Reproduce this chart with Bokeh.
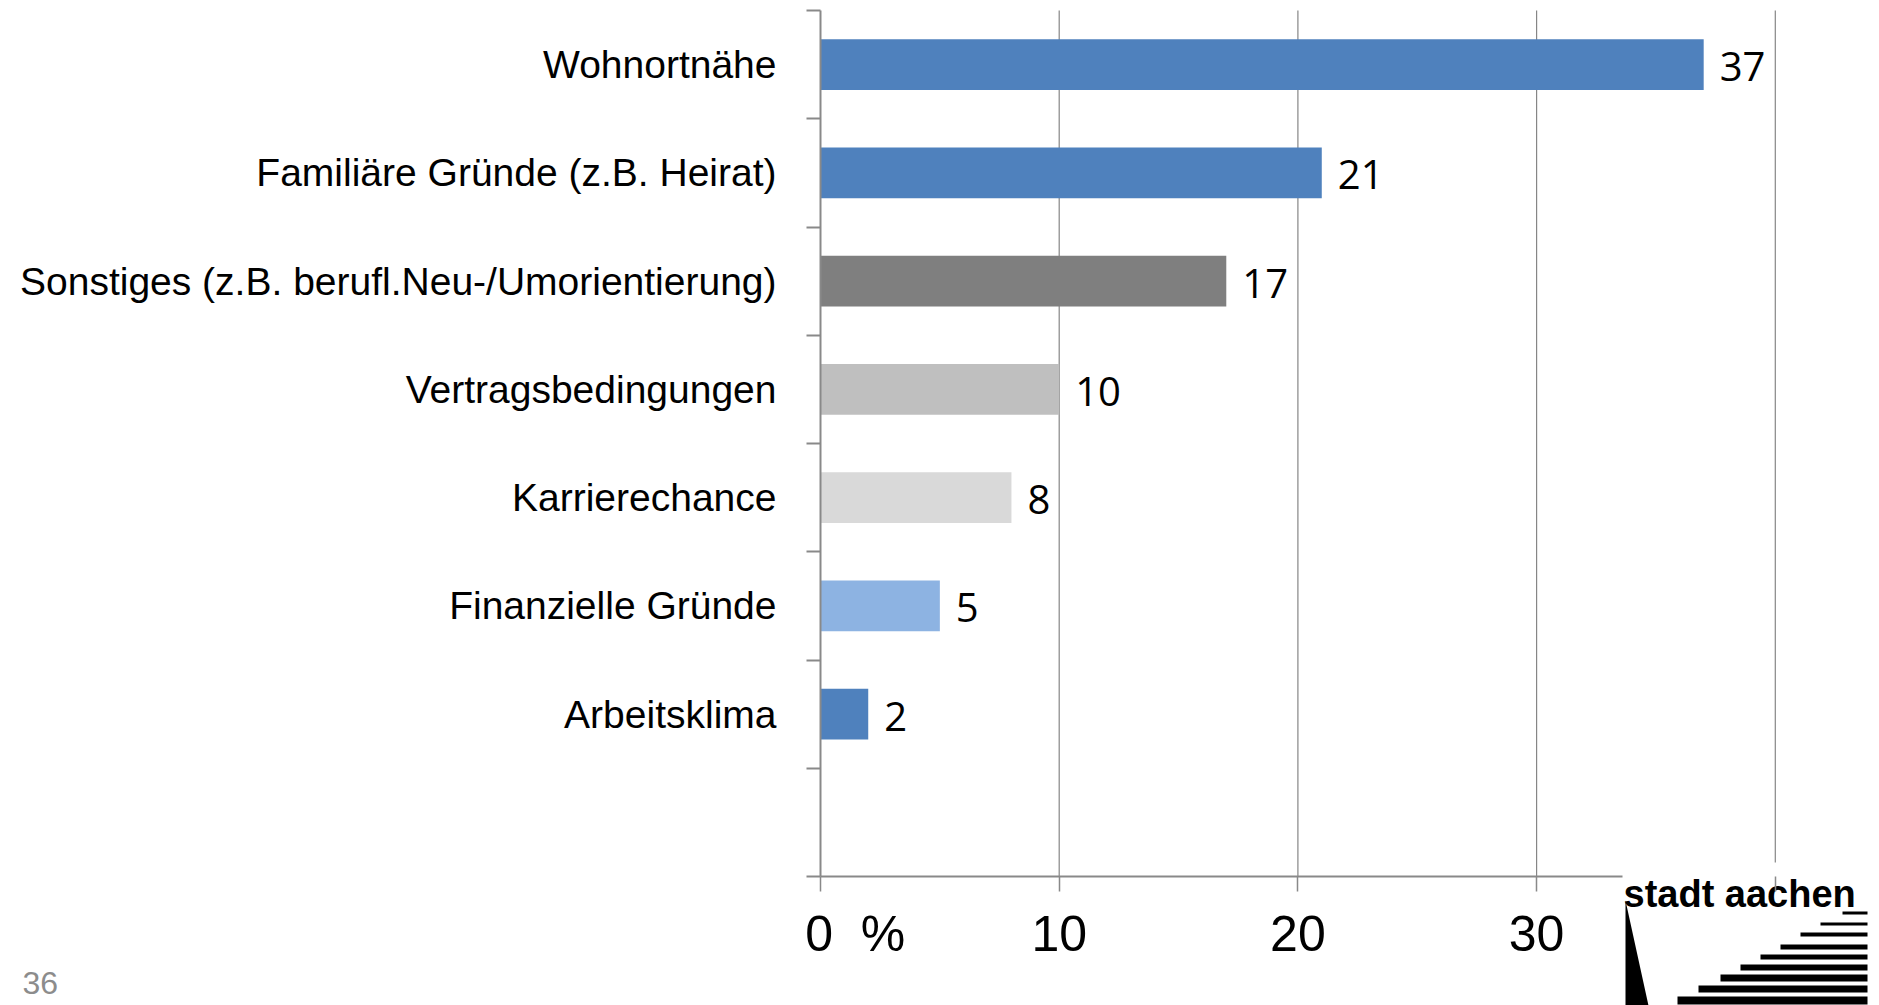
from bokeh.plotting import figure
from bokeh.models import FixedTicker, Range1d, ColumnDataSource
from bokeh.core.properties import value
from bokeh.embed import file_html
from bokeh.resources import INLINE

# ---- data ----
categories = [
    "Wohnortnähe",
    "Familiäre Gründe (z.B. Heirat)",
    "Sonstiges (z.B. berufl.Neu-/Umorientierung)",
    "Vertragsbedingungen",
    "Karrierechance",
    "Finanzielle Gründe",
    "Arbeitsklima",
]
values = [37, 21, 17, 10, 8, 5, 2]
bar_colors = ["#4F81BD", "#4F81BD", "#7F7F7F", "#BFBFBF", "#D9D9D9", "#8DB3E2", "#4F81BD"]
x_ticks = [0, 10, 20, 30, 40]
NB = "\u00a0"
x_tick_labels = [NB * 5 + "0" + NB * 2 + "%", "10", "20", "30", ""]
n_slots = 8  # seven categories plus one empty slot at the bottom
page_number = "36"
logo_text = "stadt aachen"

FONT = "Liberation Sans"
GRAY = "#898989"

# ---- canvas geometry (pixels) ----
W, H = 1879, 1005
X0_PX, X_UNIT_PX = 820, 23.87        # where x=0 sits, pixels per x unit
Y_TOP_PX, Y_BOT_PX = 10, 876         # pixel rows of y=n_slots and y=0
y_unit = (Y_BOT_PX - Y_TOP_PX) / n_slots

x_range = Range1d(-X0_PX / X_UNIT_PX, (W - X0_PX) / X_UNIT_PX)
y_range = Range1d(-(H - Y_BOT_PX) / y_unit, n_slots + Y_TOP_PX / y_unit)

ys = [n_slots - i - 0.5 for i in range(len(categories))]
src = ColumnDataSource(dict(y=ys, v=values, c=bar_colors,
                            lab=[str(v) for v in values]))

p = figure(width=W, height=H, output_backend="svg", toolbar_location=None,
           title=None, x_range=x_range, y_range=y_range, min_border=0)
p.extra_x_ranges = {"px": Range1d(0, W)}
p.extra_y_ranges = {"py": Range1d(H, 0)}
p.outline_line_color = None
p.background_fill_color = "white"
p.border_fill_color = "white"

# vertical grid lines (from the tick list), under the bars
p.grid.visible = False
grid_x = [t for t in x_ticks if t > 0]
p.segment(x0=grid_x, x1=grid_x, y0=[0] * len(grid_x), y1=[n_slots] * len(grid_x),
          line_color="#868686", line_width=1.2, level="underlay")

p.hbar(y="y", right="v", left=0, height=0.47, fill_color="c", line_color=None, source=src)
p.text(x="v", y="y", text="lab", x_offset=16, y_offset=2, text_baseline="middle",
       text_font=value("Open Sans"), text_font_size="40px", text_color="black", source=src)

# x axis (drawn at y=0)
xa = p.xaxis[0]
xa.fixed_location = 0
xa.ticker = FixedTicker(ticks=x_ticks)
xa.major_label_overrides = {t: l for t, l in zip(x_ticks, x_tick_labels)}
xa.major_tick_out = 15
xa.major_tick_in = 0
xa.minor_tick_line_color = None
xa.axis_line_color = GRAY
xa.axis_line_width = 2
xa.major_tick_line_color = GRAY
xa.major_tick_line_width = 1.5
xa.major_label_text_font = FONT
xa.major_label_text_font_size = "50px"
xa.major_label_text_color = "black"
xa.major_label_standoff = 14
xa.bounds = (0, 33.6)

# y axis (drawn at x=0)
ya = p.yaxis[0]
ya.fixed_location = 0
ya.bounds = (0, n_slots)
ya.ticker = FixedTicker(ticks=ys, minor_ticks=list(range(0, n_slots + 1)))
ya.major_label_overrides = {y: c for y, c in zip(ys, categories)}
ya.major_tick_line_color = None
ya.major_tick_out = 14
ya.major_tick_in = 0
ya.minor_tick_out = 14
ya.minor_tick_in = 0
ya.minor_tick_line_color = GRAY
ya.minor_tick_line_width = 2
ya.axis_line_color = GRAY
ya.axis_line_width = 2
ya.major_label_text_font = FONT
ya.major_label_text_font_size = "39px"
ya.major_label_text_color = "black"
ya.major_label_standoff = 30

# page number, bottom-left (pixel coordinates)
p.text(x=[22], y=[982], text=[page_number], x_range_name="px", y_range_name="py",
       text_font=value(FONT), text_font_size="32px", text_color="#8C8C8C",
       text_baseline="alphabetic")

# ---- logo (decoration), lower right corner, pixel coordinates ----
p.quad(left=[1623], right=[W], top=[862], bottom=[H], x_range_name="px",
       y_range_name="py", fill_color="white", line_color=None)
p.text(x=[1623], y=[893], text=[logo_text], x_range_name="px", y_range_name="py",
       text_font=value(FONT), text_font_style="bold", text_font_size="38px",
       text_color="black", text_baseline="alphabetic")
p.patch(x=[1625, 1625, 1648], y=[900, 1005, 1005], x_range_name="px",
        y_range_name="py", fill_color="black", line_color=None)
stripe_top = [911, 922, 932, 944, 954, 964, 974, 985, 996]
stripe_th = [3, 3, 4, 5, 5, 6, 7, 7, 8]
stripe_left = [1842, 1820, 1800, 1780, 1760, 1740, 1720, 1698, 1677]
p.quad(left=stripe_left, right=[1867] * len(stripe_left), top=stripe_top,
       bottom=[t + h for t, h in zip(stripe_top, stripe_th)], x_range_name="px",
       y_range_name="py", fill_color="black", line_color=None)

open("out.html", "w").write(file_html(p, INLINE))
